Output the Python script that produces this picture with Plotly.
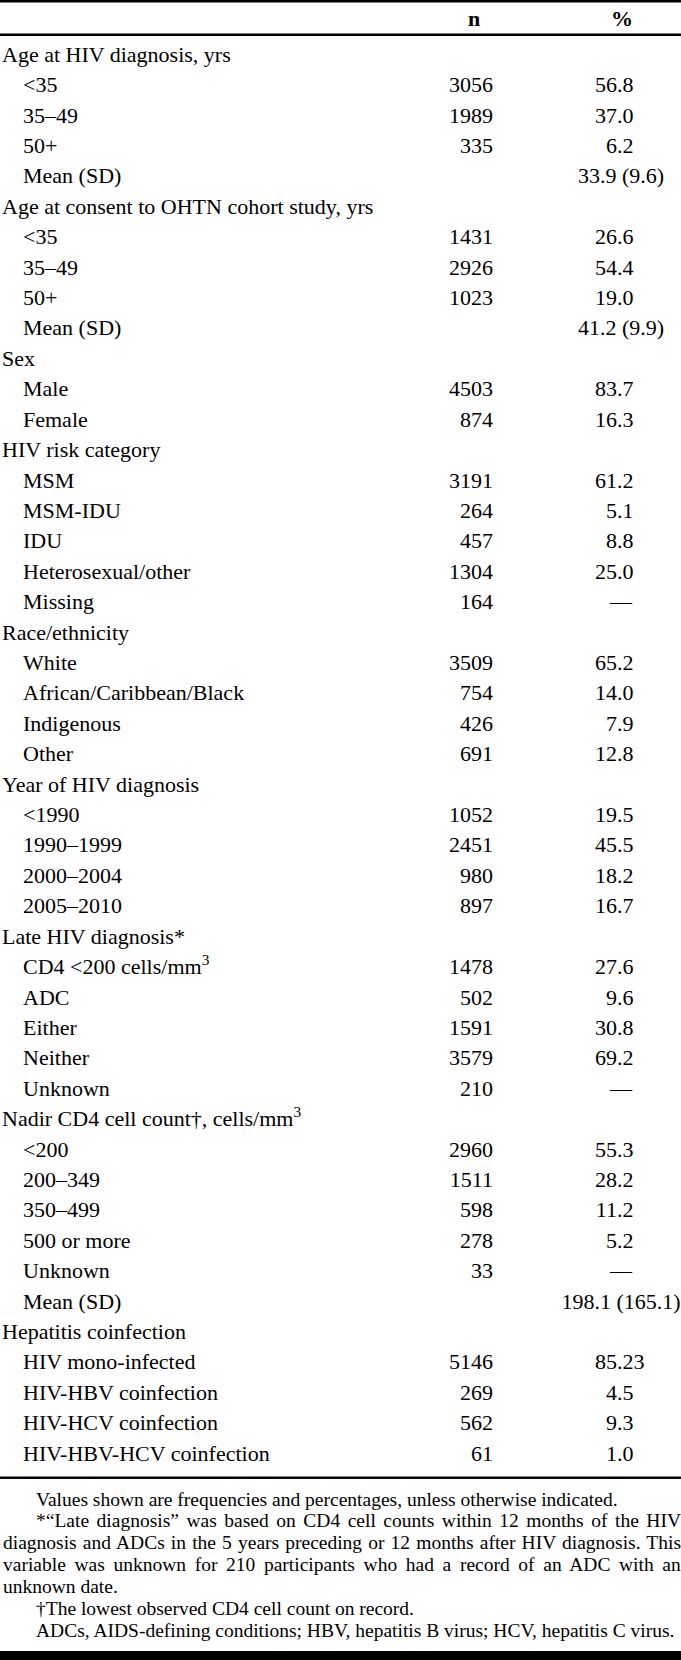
import plotly.graph_objects as go

# ---------------- data ----------------
row_labels = [
    "Age at HIV diagnosis, yrs", "<35", "35–49", "50+", "Mean (SD)",
    "Age at consent to OHTN cohort study, yrs", "<35", "35–49", "50+", "Mean (SD)",
    "Sex", "Male", "Female",
    "HIV risk category", "MSM", "MSM-IDU", "IDU", "Heterosexual/other", "Missing",
    "Race/ethnicity", "White", "African/Caribbean/Black", "Indigenous", "Other",
    "Year of HIV diagnosis", "<1990", "1990–1999", "2000–2004", "2005–2010",
    "Late HIV diagnosis*", "CD4 <200 cells/mm<sup>3</sup>", "ADC", "Either", "Neither", "Unknown",
    "Nadir CD4 cell count†, cells/mm<sup>3</sup>", "<200", "200–349", "350–499", "500 or more",
    "Unknown", "Mean (SD)",
    "Hepatitis coinfection", "HIV mono-infected", "HIV-HBV coinfection", "HIV-HCV coinfection",
    "HIV-HBV-HCV coinfection",
]
row_level = [
    0, 1, 1, 1, 1,
    0, 1, 1, 1, 1,
    0, 1, 1,
    0, 1, 1, 1, 1, 1,
    0, 1, 1, 1, 1,
    0, 1, 1, 1, 1,
    0, 1, 1, 1, 1, 1,
    0, 1, 1, 1, 1, 1, 1,
    0, 1, 1, 1, 1,
]
n_values = [
    "", "3056", "1989", "335", "",
    "", "1431", "2926", "1023", "",
    "", "4503", "874",
    "", "3191", "264", "457", "1304", "164",
    "", "3509", "754", "426", "691",
    "", "1052", "2451", "980", "897",
    "", "1478", "502", "1591", "3579", "210",
    "", "2960", "1511", "598", "278", "33", "",
    "", "5146", "269", "562", "61",
]
pct_values = [
    "", "56.8", "37.0", "6.2", "33.9 (9.6)",
    "", "26.6", "54.4", "19.0", "41.2 (9.9)",
    "", "83.7", "16.3",
    "", "61.2", "5.1", "8.8", "25.0", "—",
    "", "65.2", "14.0", "7.9", "12.8",
    "", "19.5", "45.5", "18.2", "16.7",
    "", "27.6", "9.6", "30.8", "69.2", "—",
    "", "55.3", "28.2", "11.2", "5.2", "—", "198.1 (165.1)",
    "", "85.23", "4.5", "9.3", "1.0",
]
header_labels = ["n", "%"]
footnote_lines = [
    "Values shown are frequencies and percentages, unless otherwise indicated.",
    "*“Late diagnosis” was based on CD4 cell counts within 12 months of the HIV",
    "diagnosis and ADCs in the 5 years preceding or 12 months after HIV diagnosis. This",
    "variable was unknown for 210 participants who had a record of an ADC with an",
    "unknown date.",
    "†The lowest observed CD4 cell count on record.",
    "ADCs, AIDS-defining conditions; HBV, hepatitis B virus; HCV, hepatitis C virus.",
]
footnote_indent = [1, 1, 0, 0, 0, 1, 1]
footnote_justify = [0, 1, 1, 1, 0, 0, 0]

# ---------------- layout constants (pixels) ----------------
W, H = 681, 1660
FIRST_ROW_PX = 56.3
ROW_PX = 30.41
FONT = "Liberation Serif"
FS = 22
FS_NOTE = 19.5
COLOR = "#000000"
X_GROUP, X_SUB = 2, 23
X_N_RIGHT = 493
X_DEC = 617
X_MEAN_CENTER = 621
X_DASH_RIGHT = 632
X_NOTE_RIGHT = 680
HEADER_PX = 19
HEADER_X = (474, 622)
NOTE_TOP_PX, NOTE_STEP = 1499, 21.9

def paper_y(px):
    return 1 - px / H

idx = list(range(len(row_labels)))

fig = go.Figure()
common = dict(mode="text", cliponaxis=False, hoverinfo="skip", showlegend=False,
              textfont=dict(family=FONT, size=FS, color=COLOR))

# labels
for lvl, xpos in ((0, X_GROUP), (1, X_SUB)):
    ys = [i for i in idx if row_level[i] == lvl]
    fig.add_trace(go.Scatter(x=[xpos] * len(ys), y=ys,
                             text=[row_labels[i] for i in ys],
                             textposition="middle right", **common))

# n column (right aligned)
ys = [i for i in idx if n_values[i]]
fig.add_trace(go.Scatter(x=[X_N_RIGHT] * len(ys), y=ys,
                         text=[n_values[i] for i in ys],
                         textposition="middle left", **common))

# % column: decimal aligned simple numbers
simple = [i for i in idx if pct_values[i] and "." in pct_values[i] and "(" not in pct_values[i]]
fig.add_trace(go.Scatter(x=[X_DEC] * len(simple), y=simple,
                         text=[pct_values[i].split(".")[0] for i in simple],
                         textposition="middle left", **common))
fig.add_trace(go.Scatter(x=[X_DEC] * len(simple), y=simple,
                         text=["." + pct_values[i].split(".")[1] for i in simple],
                         textposition="middle right", **common))
# mean (SD) values centred in the column
means = [i for i in idx if "(" in pct_values[i]]
fig.add_trace(go.Scatter(x=[X_MEAN_CENTER] * len(means), y=means,
                         text=[pct_values[i] for i in means],
                         textposition="middle center", **common))
# dashes
dashes = [i for i in idx if pct_values[i] == "—"]
fig.add_trace(go.Scatter(x=[X_DASH_RIGHT] * len(dashes), y=dashes,
                         text=[pct_values[i] for i in dashes],
                         textposition="middle left", **common))

y_top = -FIRST_ROW_PX / ROW_PX
y_bottom = (H - FIRST_ROW_PX) / ROW_PX

annotations = []
for lab, xc in zip(header_labels, HEADER_X):
    annotations.append(dict(x=xc, xref="x", y=paper_y(HEADER_PX), yref="paper",
                            text="<b>%s</b>" % lab, showarrow=False,
                            xanchor="center", yanchor="middle",
                            font=dict(family=FONT, size=FS, color=COLOR)))
note_start_index = len(annotations)
for k, line in enumerate(footnote_lines):
    annotations.append(dict(x=35 if footnote_indent[k] else 2, xref="x",
                            y=paper_y(NOTE_TOP_PX + k * NOTE_STEP), yref="paper",
                            text=line, showarrow=False, xanchor="left", yanchor="middle",
                            borderpad=0,
                            font=dict(family=FONT, size=FS_NOTE, color=COLOR)))

shapes = [
    dict(type="line", xref="paper", yref="paper", x0=0, x1=1,
         y0=paper_y(1.3), y1=paper_y(1.3), line=dict(color=COLOR, width=2.6)),
    dict(type="line", xref="paper", yref="paper", x0=0, x1=1,
         y0=paper_y(34.7), y1=paper_y(34.7), line=dict(color=COLOR, width=2.4)),
    dict(type="line", xref="paper", yref="paper", x0=0, x1=1,
         y0=paper_y(1477.7), y1=paper_y(1477.7), line=dict(color=COLOR, width=2.6)),
    dict(type="rect", xref="paper", yref="paper", x0=0, x1=1,
         y0=paper_y(1660), y1=paper_y(1651), line=dict(width=0), fillcolor=COLOR),
]

fig.update_layout(
    width=W, height=H, margin=dict(l=0, r=0, t=0, b=0, pad=0),
    paper_bgcolor="white", plot_bgcolor="white",
    xaxis=dict(range=[0, W], visible=False, fixedrange=True),
    yaxis=dict(range=[y_bottom, y_top], visible=False, fixedrange=True),
    annotations=annotations, shapes=shapes, showlegend=False,
)

justify_targets = []
for k, flag in enumerate(footnote_justify):
    if flag:
        start = 35 if footnote_indent[k] else 2
        justify_targets.append([note_start_index + k, X_NOTE_RIGHT - start])

post = """
document.body.style.margin = '0';
document.body.style.padding = '0';
document.documentElement.style.overflow = 'hidden';
var gd = document.getElementById('{plot_id}');
function justifyNotes(){
  var targets = %s;
  targets.forEach(function(t){
    var el = gd.querySelector('g.annotation[data-index="' + t[0] + '"] text.annotation-text');
    if(!el) return;
    el.style.wordSpacing = '0px';
    var b0 = el.getBBox();
    var w = b0.width;
    var n = (el.textContent.match(/ /g) || []).length;
    if(n > 0 && t[1] > w) {
      el.style.wordSpacing = ((t[1] - w) / n) + 'px';
      var b1 = el.getBBox();
      var prev = el.getAttribute('transform') || '';
      el.setAttribute('transform', 'translate(' + (b0.x - b1.x) + ',0) ' + prev);
    }
  });
}
justifyNotes();
""" % str(justify_targets)

fig.write_html("out.html", config={"displayModeBar": False, "staticPlot": True},
               post_script=post)
